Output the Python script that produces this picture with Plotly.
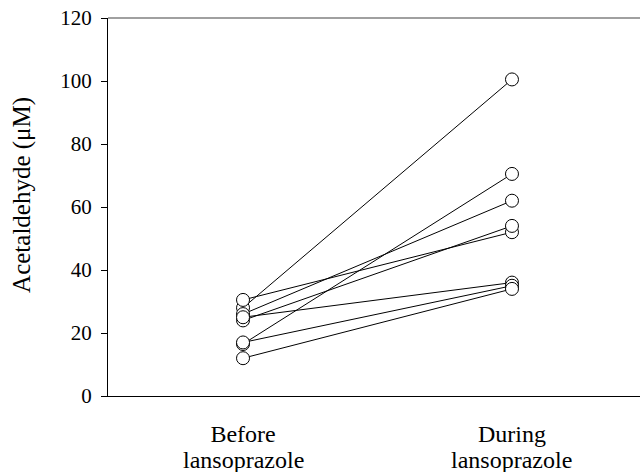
import plotly.graph_objects as go

categories = ["Before<br>lansoprazole", "During<br>lansoprazole"]
before = [28, 16.5, 26, 30.5, 24, 25, 17, 12]
during = [100.5, 70.5, 62, 52, 54, 36, 35, 34]
yticks = [0, 20, 40, 60, 80, 100, 120]

fig = go.Figure()
for b, d in zip(before, during):
    fig.add_trace(go.Scatter(x=[0, 1], y=[b, d], mode="lines",
                             line=dict(color="black", width=1),
                             showlegend=False, hoverinfo="skip"))
for b, d in zip(before, during):
    fig.add_trace(go.Scatter(x=[0, 1], y=[b, d], mode="markers",
                             marker=dict(size=13, color="white",
                                         line=dict(color="black", width=1)),
                             showlegend=False))

font_family = "Liberation Serif, Times New Roman, serif"
first_lines = [c.split("<br>")[0] for c in categories]
second_lines = [c.split("<br>")[1] for c in categories]

annotations = [dict(x=i, y=-0.169, xref="x", yref="paper", text=t,
                    showarrow=False, xanchor="center", yanchor="middle",
                    font=dict(size=24, family=font_family, color="black"))
               for i, t in enumerate(second_lines)]
annotations.append(dict(x=-0.1617, y=0.532, xref="paper", yref="paper",
                        text="Acetaldehyde (μM)", textangle=-90,
                        showarrow=False, xanchor="center", yanchor="middle",
                        font=dict(size=25, family=font_family, color="black")))

fig.update_layout(
    width=640, height=472,
    margin=dict(l=108, r=0, t=18, b=76),
    paper_bgcolor="white", plot_bgcolor="white",
    font=dict(family=font_family, color="black"),
    xaxis=dict(range=[-0.502, 1.476], tickvals=[0, 1], ticktext=first_lines,
               showgrid=False, zeroline=False, showline=True,
               linecolor="black", linewidth=1, ticks="",
               ticklabelstandoff=16,
               tickfont=dict(size=24, family=font_family)),
    yaxis=dict(range=[0, 120], tickvals=yticks, showgrid=False,
               zeroline=False, showline=True, linecolor="black", linewidth=1,
               ticks="outside", ticklen=6, tickcolor="black", tickwidth=1,
               ticklabelstandoff=5, ticklabeloverflow="allow",
               tickfont=dict(size=21, family=font_family)),
    annotations=annotations,
    shapes=[dict(type="line", xref="paper", yref="paper", x0=0, x1=1,
                 y0=1, y1=1, line=dict(color="gray", width=1.5))],
)
fig.write_html(
    "out.html",
    config={"displayModeBar": False},
    post_script="document.body.style.margin='0';"
                "document.body.style.overflow='hidden';",
)
